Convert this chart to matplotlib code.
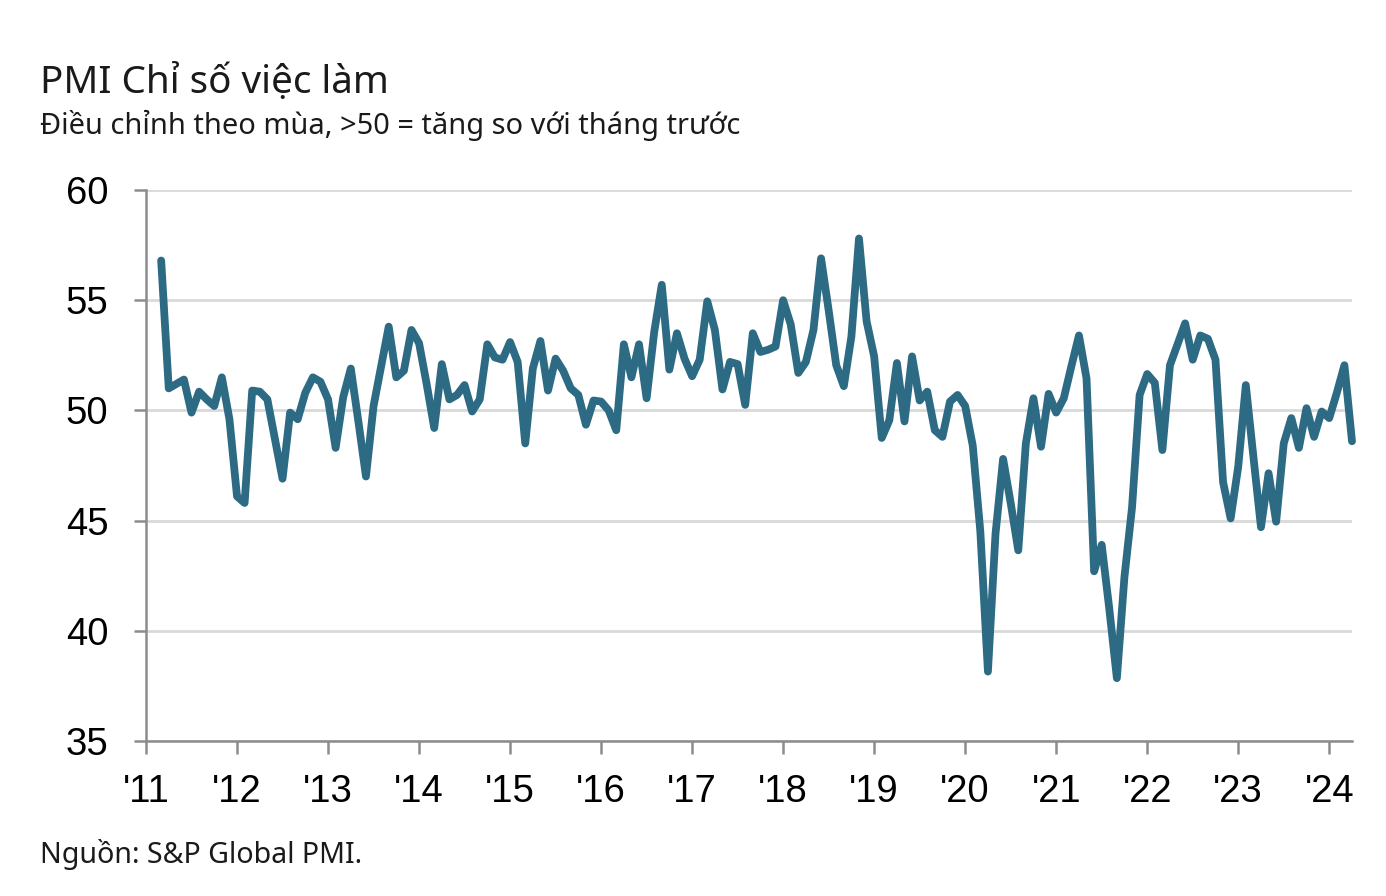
import matplotlib
matplotlib.use("Agg")
import matplotlib.pyplot as plt
import numpy as np

# Monthly PMI employment index, Mar 2011 .. Apr 2024
start_year, start_month = 2011, 3
values = [
    # 2011 Mar-Dec
    56.8, 51.0, 51.2, 51.4, 49.9, 50.85, 50.5, 50.2, 51.5, 49.6,
    # 2012
    46.1, 45.8, 50.9, 50.85, 50.5, 48.7, 46.9, 49.9, 49.6, 50.8, 51.5, 51.3,
    # 2013
    50.5, 48.3, 50.6, 51.9, 49.5, 47.0, 50.2, 52.0, 53.8, 51.5, 51.8, 53.65,
    # 2014
    53.05, 51.2, 49.2, 52.1, 50.5, 50.7, 51.15, 49.95, 50.5, 53.0, 52.4, 52.3,
    # 2015
    53.1, 52.2, 48.5, 51.9, 53.15, 50.9, 52.35, 51.8, 51.0, 50.7, 49.35, 50.45,
    # 2016
    50.4, 50.0, 49.1, 53.0, 51.5, 53.0, 50.55, 53.55, 55.7, 51.85, 53.5, 52.35,
    # 2017
    51.55, 52.3, 54.95, 53.65, 50.95, 52.2, 52.1, 50.25, 53.5, 52.65, 52.75, 52.9,
    # 2018
    55.0, 53.9, 51.7, 52.2, 53.65, 56.9, 54.55, 52.05, 51.1, 53.35, 57.8, 54.05,
    # 2019
    52.45, 48.75, 49.55, 52.15, 49.5, 52.45, 50.45, 50.85, 49.1, 48.8, 50.4, 50.7,
    # 2020
    50.2, 48.4, 44.5, 38.15, 44.4, 47.8, 45.8, 43.65, 48.5, 50.55, 48.35, 50.75,
    # 2021
    49.9, 50.55, 52.0, 53.4, 51.45, 42.7, 43.9, 41.0, 37.85, 42.45, 45.6, 50.7,
    # 2022
    51.65, 51.25, 48.2, 52.05, 53.0, 53.95, 52.3, 53.4, 53.25, 52.3, 46.75, 45.1,
    # 2023
    47.45, 51.15, 47.9, 44.7, 47.15, 44.95, 48.5, 49.65, 48.3, 50.1, 48.8, 49.95,
    # 2024 Jan-Apr
    49.65, 50.8, 52.05, 48.6,
]
year_labels = ["'11", "'12", "'13", "'14", "'15", "'16", "'17", "'18",
               "'19", "'20", "'21", "'22", "'23", "'24"]
y_ticks = [35, 40, 45, 50, 55, 60]

title = "PMI Chỉ số việc làm"
subtitle = "Điều chỉnh theo mùa, >50 = tăng so với tháng trước"
source = "Nguồn: S&P Global PMI."

W, H = 1386, 896
fig = plt.figure(figsize=(W / 100, H / 100), dpi=100)
ax = fig.add_axes([146 / W, 1 - 741 / H, (1352 - 146) / W, (741 - 190) / H])

# month index since Jan 2011
x = np.arange(len(values)) + (start_month - 1)
line_color = "#2d6a84"
ax.plot(x, values, color=line_color, lw=5.6, solid_joinstyle="round",
        solid_capstyle="round", zorder=3, clip_on=False)

ax.set_xlim(0, 159)
ax.set_ylim(35, 60)
ax.set_yticks(y_ticks)
ax.set_xticks(np.arange(len(year_labels)) * 12)
ax.set_xticklabels(year_labels)

grid_c = "#d9d9d9"
ax.yaxis.grid(True, color=grid_c, lw=2)
ax.set_axisbelow(True)
for s in ["top", "right"]:
    ax.spines[s].set_visible(False)
spine_c = "#8c8c8c"
for s in ["left", "bottom"]:
    ax.spines[s].set_color(spine_c)
    ax.spines[s].set_linewidth(1.8)
ax.tick_params(axis="both", colors=spine_c, width=1.8, length=9,
               labelcolor="black")
ax.tick_params(axis="y", pad=18)
ax.tick_params(axis="x", pad=15)
for lab in ax.get_xticklabels() + ax.get_yticklabels():
    lab.set_fontfamily("Liberation Sans")
    lab.set_fontsize(27.5)

tf = "Noto Sans"
fig.text(40 / W, 1 - 93 / H, title, fontsize=27.8, family=tf, va="baseline",
         ha="left", color="#1a1a1a")
fig.text(40 / W, 1 - 134 / H, subtitle, fontsize=20.9, family=tf,
         va="baseline", ha="left", color="#1a1a1a")
fig.text(40 / W, 1 - 863 / H, source, fontsize=20.6, family=tf,
         va="baseline", ha="left", color="#1a1a1a")

fig.savefig("out.png", dpi=100, facecolor="white")
